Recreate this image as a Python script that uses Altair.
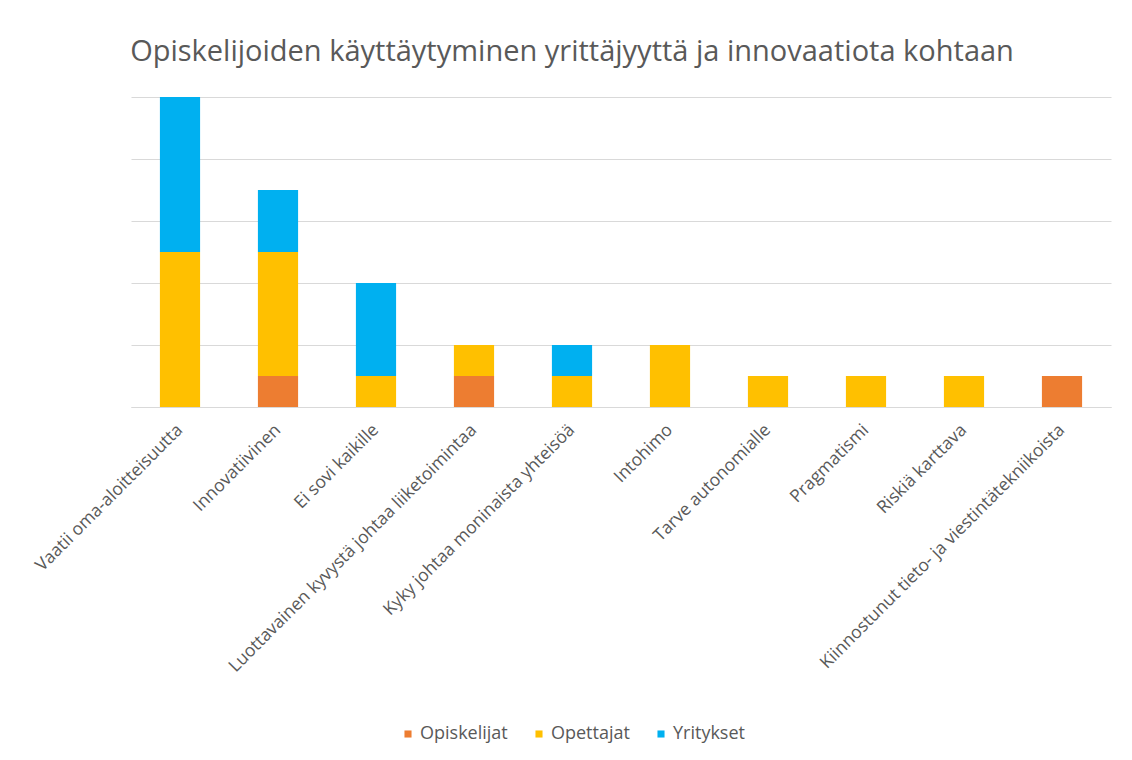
import altair as alt
import pandas as pd

categories = [
    "Vaatii oma-aloitteisuutta",
    "Innovatiivinen",
    "Ei sovi kaikille",
    "Luottavainen kyvystä johtaa liiketoimintaa",
    "Kyky johtaa moninaista yhteisöä",
    "Intohimo",
    "Tarve autonomialle",
    "Pragmatismi",
    "Riskiä karttava",
    "Kiinnostunut tieto- ja viestintätekniikoista",
]
series = ["Opiskelijat", "Opettajat", "Yritykset"]
opiskelijat = [0, 1, 0, 1, 0, 0, 0, 0, 0, 1]
opettajat = [5, 4, 1, 1, 1, 2, 1, 1, 1, 0]
yritykset = [5, 2, 3, 0, 1, 0, 0, 0, 0, 0]
colors = ["#ED7D31", "#FFC000", "#00B0F0"]

rows = []
for s_i, (name, vals) in enumerate(zip(series, [opiskelijat, opettajat, yritykset])):
    for c, v in zip(categories, vals):
        rows.append({"Kategoria": c, "Sarja": name, "Arvo": v, "Järjestys": s_i})
df = pd.DataFrame(rows)

FONT = "Open Sans"
GREY = "#595959"

chart = (
    alt.Chart(df)
    .mark_bar()
    .encode(
        x=alt.X(
            "Kategoria:N",
            sort=categories,
            title=None,
            scale=alt.Scale(paddingInner=0.59, paddingOuter=0.295),
            axis=alt.Axis(
                labelAngle=-45,
                labelAlign="right",
                labelBaseline="middle",
                labelLimit=0,
                labelFontSize=17.5,
                labelColor=GREY,
                labelFont=FONT,
                labelPadding=20,
                ticks=False,
                domainColor="#d9d9d9",
                grid=False,
            ),
        ),
        y=alt.Y(
            "Arvo:Q",
            stack="zero",
            title=None,
            scale=alt.Scale(domain=[0, 10], nice=False),
            axis=alt.Axis(
                values=[0, 2, 4, 6, 8, 10],
                labels=False,
                ticks=False,
                domain=False,
                gridColor="#d9d9d9",
                gridWidth=1,
            ),
        ),
        color=alt.Color(
            "Sarja:N",
            sort=series,
            scale=alt.Scale(domain=series, range=colors),
            legend=alt.Legend(
                title=None,
                orient="none",
                direction="horizontal",
                legendX=268,
                legendY=628,
                symbolType="square",
                symbolSize=50,
                symbolStrokeWidth=0,
                labelFontSize=18,
                labelColor=GREY,
                labelFont=FONT,
                columnPadding=22,
                labelOffset=3,
            ),
        ),
        order=alt.Order("Järjestys:Q", sort="ascending"),
    )
    .properties(
        width=980,
        height=310,
        autosize=alt.AutoSizeParams(type="none"),
        padding={"left": 123, "top": 89, "right": 13, "bottom": 345},
        background="white",
        title=alt.TitleParams(
            "Opiskelijoiden käyttäytyminen yrittäjyyttä ja innovaatiota kohtaan",
            font=FONT,
            fontSize=29,
            fontWeight="normal",
            color=GREY,
            anchor="middle",
            dx=-49,
            offset=30,
        ),
    )
    .configure_view(strokeWidth=0, stroke="transparent")
)

chart.save("out.html", embed_options={"renderer": "svg", "actions": False})
